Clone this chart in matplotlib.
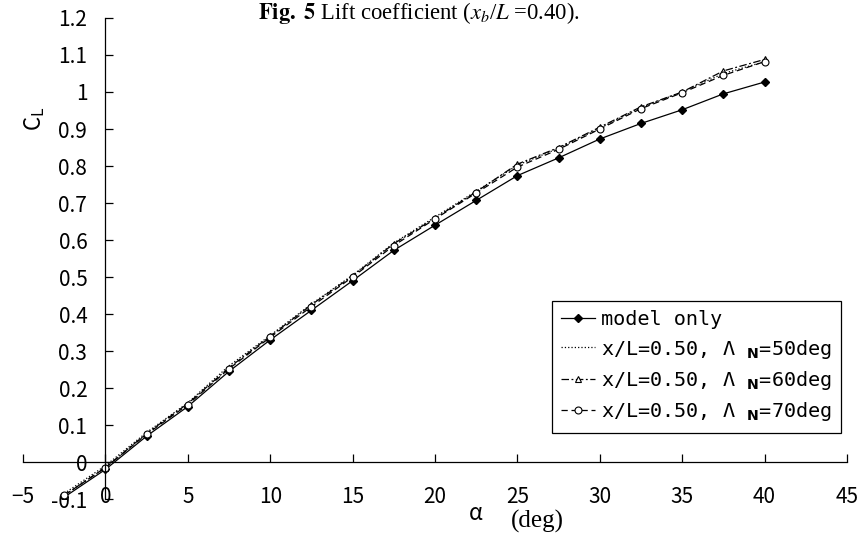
import matplotlib
matplotlib.use("Agg")
import matplotlib.pyplot as plt

plt.rcParams["font.family"] = ["Noto Sans CJK JP", "DejaVu Sans"]
plt.rcParams["mathtext.fontset"] = "custom"
plt.rcParams["mathtext.rm"] = "Noto Sans CJK JP"
plt.rcParams["mathtext.it"] = "Noto Sans CJK JP"
plt.rcParams["mathtext.bf"] = "DejaVu Sans:bold"

# angle of attack (deg)
alpha = [-2.5, 0, 2.5, 5, 7.5, 10, 12.5, 15, 17.5, 20,
         22.5, 25, 27.5, 30, 32.5, 35, 37.5, 40]

# lift coefficient
cl_model = [-0.095, -0.02, 0.07, 0.15, 0.245, 0.33, 0.41, 0.49, 0.572, 0.64,
            0.707, 0.774, 0.822, 0.873, 0.915, 0.952, 0.995, 1.027]
cl_50 = [-0.085, -0.01, 0.08, 0.16, 0.26, 0.342, 0.427, 0.505, 0.592, 0.662,
         0.732, 0.802, 0.848, 0.902, 0.958, 1.0, 1.05, 1.082]
cl_60 = [-0.09, -0.015, 0.077, 0.158, 0.255, 0.34, 0.425, 0.503, 0.59, 0.659,
         0.73, 0.805, 0.85, 0.905, 0.96, 1.0, 1.057, 1.088]
cl_70 = [-0.09, -0.015, 0.075, 0.155, 0.252, 0.337, 0.42, 0.50, 0.585, 0.657,
         0.727, 0.797, 0.845, 0.90, 0.955, 0.998, 1.045, 1.082]

labels = [
    "model only",
    r"x/L=0.50, Λ $_{\mathbf{N}}$=50deg",
    r"x/L=0.50, Λ $_{\mathbf{N}}$=60deg",
    r"x/L=0.50, Λ $_{\mathbf{N}}$=70deg",
]

xticks = list(range(-5, 50, 5))
yticks = [round(-0.1 + 0.1 * i, 1) for i in range(14)]
ytick_labels = ["-0.1" if v < 0 else ("0" if v == 0 else ("1" if v == 1 else f"{v:g}")) for v in yticks]

fig = plt.figure(figsize=(8.59, 5.34), dpi=100)
ax = fig.add_axes([0.0268, 0.0655, 0.9592, 0.9008])

ax.plot(alpha, cl_model, "-", color="black", lw=0.9, marker="D", ms=4.5,
        mfc="black", mec="black", label=labels[0])
ax.plot(alpha, cl_50, ":", color="black", lw=0.9, label=labels[1])
ax.plot(alpha, cl_60, color="black", lw=0.9, ls=(0, (6, 2, 1.5, 2)),
        marker="^", ms=5, mfc="white", mec="black", mew=0.8, label=labels[2])
ax.plot(alpha, cl_70, color="black", lw=0.9, ls=(0, (5, 3)),
        marker="o", ms=5, mfc="white", mec="black", mew=0.8, label=labels[3])

ax.set_xlim(-5, 45)
ax.set_ylim(-0.1, 1.2)

for s in ["top", "right"]:
    ax.spines[s].set_visible(False)
ax.spines["left"].set_position(("data", 0))
ax.spines["bottom"].set_position(("data", 0))
ax.spines["left"].set_linewidth(0.9)
ax.spines["bottom"].set_linewidth(0.9)

ax.set_xticks(xticks)
ax.set_xticklabels([str(v).replace("-", "\u2212") for v in xticks])
ax.set_yticks(yticks)
ax.set_yticklabels(ytick_labels)
ax.tick_params(axis="both", direction="in", length=6, width=0.9, labelsize=15)
ax.tick_params(axis="x", pad=17)
ax.tick_params(axis="y", pad=13)

leg = ax.legend(loc="upper left", bbox_to_anchor=(552 / 859, 1 - 301 / 534),
                bbox_transform=fig.transFigure,
                prop={"family": "DejaVu Sans Mono", "size": 14.5},
                frameon=True, fancybox=False, edgecolor="black", framealpha=1,
                handlelength=1.7, handletextpad=0.3, labelspacing=0.42,
                borderpad=0.45, borderaxespad=0)
leg.get_frame().set_linewidth(0.9)

# axis labels and caption
fig.text(35 / 859, 1 - 119 / 534, r"C$_\mathrm{L}$", rotation=90,
         fontsize=16, ha="center", va="center")
fig.text(476 / 859, 1 - 514 / 534, "α", fontsize=16, ha="center", va="center")
fig.text(537 / 859, 1 - 521 / 534, "(deg)", family="Liberation Serif",
         fontsize=18, ha="center", va="center")
fig.text(258 / 859, 1 - 19 / 534,
         r"$\mathbf{Fig.\ 5}$ Lift coefficient ($x_b$/$L$ =0.40).",
         family="Liberation Serif", math_fontfamily="stix",
         fontsize=16.3, ha="left", va="baseline")

fig.savefig("out.png", dpi=100)
